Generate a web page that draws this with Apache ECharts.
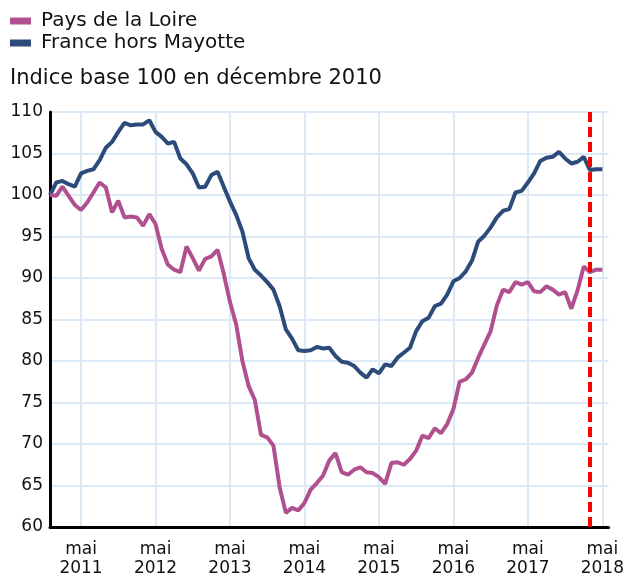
<!DOCTYPE html>
<html>
<head>
<meta charset="utf-8">
<script src="https://cdn.jsdelivr.net/npm/echarts@6/dist/echarts.min.js"></script>
<style>
html, body { margin: 0; padding: 0; background: #fff; }
#chart { width: 627px; height: 578px; }
</style>
</head>
<body>
<div id="chart"></div>
<script>
// mois de décembre 2010 à juin 2018 (le dernier mois n'a pas de valeur)
var categories = [];
for (var i = 0; i <= 90; i++) {
    var d = new Date(2010, 11 + i, 1);
    var mm = d.getMonth() + 1;
    categories.push(d.getFullYear() + '-' + (mm < 10 ? '0' + mm : mm));
}

var paysDeLaLoire = [
    100.0, 99.9, 101.0, 99.9, 98.8, 98.2, 99.1, 100.3, 101.5, 100.9, 97.9, 99.3,
    97.3, 97.4, 97.3, 96.3, 97.7, 96.5, 93.5, 91.6, 91.0, 90.7, 93.8, 92.4,
    90.9, 92.3, 92.6, 93.4, 90.5, 87.1, 84.4, 80.0, 77.0, 75.3, 71.1, 70.8,
    69.8, 64.8, 61.7, 62.3, 62.0, 62.9, 64.5, 65.3, 66.2, 68.0, 68.9, 66.6,
    66.3, 66.9, 67.2, 66.6, 66.5, 66.0, 65.2, 67.7, 67.8, 67.5, 68.2, 69.2,
    71.0, 70.7, 71.9, 71.3, 72.4, 74.2, 77.5, 77.8, 78.6, 80.4, 82.0, 83.6,
    86.7, 88.6, 88.3, 89.5, 89.2, 89.5, 88.4, 88.3, 89.0, 88.6, 88.0, 88.3,
    86.3, 88.5, 91.4, 90.7, 91.0, 91.0
];

var franceHorsMayotte = [
    100.0, 101.5, 101.7, 101.3, 101.0, 102.6, 102.9, 103.1, 104.2, 105.7, 106.4, 107.6,
    108.7, 108.4, 108.5, 108.5, 109.0, 107.6, 107.0, 106.2, 106.4, 104.4, 103.7, 102.6,
    100.9, 101.0, 102.4, 102.8, 101.0, 99.2, 97.6, 95.6, 92.4, 91.0, 90.3, 89.5,
    88.6, 86.6, 83.8, 82.7, 81.3, 81.2, 81.3, 81.7, 81.5, 81.6, 80.6, 79.9,
    79.8, 79.4, 78.6, 78.0, 79.0, 78.5, 79.6, 79.4, 80.4, 81.0, 81.6, 83.6,
    84.8, 85.2, 86.6, 86.9, 88.0, 89.6, 90.0, 90.8, 92.1, 94.4, 95.1, 96.1,
    97.3, 98.1, 98.3, 100.3, 100.5, 101.5, 102.6, 104.1, 104.5, 104.6, 105.2, 104.4,
    103.8, 104.0, 104.6, 103.0, 103.1, 103.1
];

var moisRepere = '2018-03';

var fontFam = '"DejaVu Sans", "Liberation Sans", Arial, sans-serif';
var couleurGrille = '#dce9f6';

// on ne garde que les mois de mai pour les étiquettes et les lignes verticales
var estMai = function (idx, val) {
    return String(val).slice(5) === '05';
};

var option = {
    animation: false,
    textStyle: { fontFamily: fontFam },
    title: {
        text: 'Indice base 100 en décembre 2010',
        left: 10,
        top: 68,
        padding: 0,
        textStyle: { fontSize: 21, fontWeight: 'normal', color: '#111', fontFamily: fontFam }
    },
    legend: {
        data: ['Pays de la Loire', 'France hors Mayotte'],
        orient: 'vertical',
        left: 10,
        top: 10,
        padding: 0,
        icon: 'rect',
        itemWidth: 21,
        itemHeight: 7,
        itemGap: 0,
        textStyle: { fontSize: 20, color: '#111', padding: [0, 0, 0, 5], lineHeight: 22, fontFamily: fontFam }
    },
    grid: { left: 50, right: 17, top: 112, bottom: 50 },
    xAxis: {
        type: 'category',
        boundaryGap: false,
        data: categories,
        axisLine: { lineStyle: { color: '#000', width: 3 } },
        axisTick: { show: false },
        axisLabel: {
            interval: estMai,
            formatter: function (v) { return 'mai\n' + v.slice(0, 4); },
            fontSize: 17,
            lineHeight: 19,
            color: '#111',
            margin: 13
        },
        splitLine: {
            show: true,
            interval: estMai,
            lineStyle: { color: couleurGrille, width: 2 }
        }
    },
    yAxis: {
        type: 'value',
        min: 60,
        max: 110,
        interval: 5,
        axisLine: { show: true, lineStyle: { color: '#000', width: 3 } },
        axisTick: { show: false },
        axisLabel: { fontSize: 17, color: '#111', margin: 7 },
        splitLine: { lineStyle: { color: couleurGrille, width: 2 } }
    },
    series: [
        {
            name: 'France hors Mayotte',
            type: 'line',
            data: franceHorsMayotte,
            symbol: 'none',
            color: '#2c4a7a',
            lineStyle: { width: 4, color: '#2c4a7a' }
        },
        {
            name: 'Pays de la Loire',
            type: 'line',
            data: paysDeLaLoire,
            symbol: 'none',
            color: '#b0508f',
            lineStyle: { width: 4, color: '#b0508f' }
        },
        {
            name: 'repere',
            type: 'line',
            data: [],
            z: 5,
            markLine: {
                silent: true,
                symbol: ['none', 'none'],
                label: { show: false },
                lineStyle: { color: '#ff0000', width: 4, type: [10, 5] },
                data: [{ xAxis: moisRepere }]
            }
        }
    ]
};

var myChart = echarts.init(document.getElementById('chart'));
myChart.setOption(option);
</script>
</body>
</html>
